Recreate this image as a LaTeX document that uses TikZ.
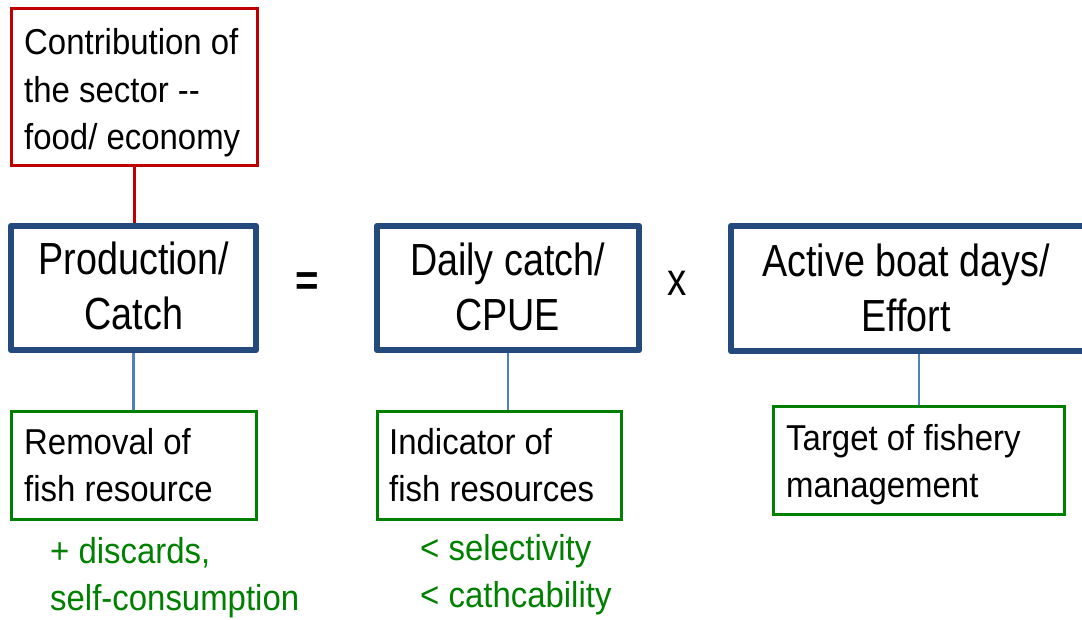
\documentclass[tikz,border=0pt]{standalone}
\usepackage{fontspec}
\setmainfont{Liberation Sans}[FakeStretch=0.915]
\newfontfamily\bigfont{Liberation Sans}[FakeStretch=0.838]
\definecolor{redline}{RGB}{192,0,0}
\definecolor{darkblue}{RGB}{36,73,125}
\definecolor{lightblue}{RGB}{79,129,189}
\definecolor{ggreen}{RGB}{0,128,0}
\tikzset{
  redbox/.style={draw=redline, line width=3pt, rectangle, inner sep=0pt},
  bluebox/.style={draw=darkblue, line width=6.5pt, line join=round, rectangle, inner sep=0pt},
  greenbox/.style={draw=ggreen, line width=3pt, rectangle, inner sep=0pt},
  smalltxt/.style={inner sep=0pt, anchor=base west, align=left, font=\fontsize{36}{47.5}\selectfont},
  bigtxt/.style={inner sep=0pt, anchor=base, align=center, font=\bigfont\fontsize{45}{55}\selectfont},
  gtxt/.style={smalltxt, text=ggreen},
  redconn/.style={draw=redline, line width=3pt},
  blueconn/.style={draw=lightblue, line width=2.5pt},
}
\begin{document}
\begin{tikzpicture}[x=1pt,y=-1pt]
\useasboundingbox (0,0) rectangle (1082,620);
\clip (0,0) rectangle (1082,620);
% boxes
\node[redbox, minimum width=246pt, minimum height=157pt] (red) at (134,87.5) {};
\node[bluebox, minimum width=245pt, minimum height=124pt] (prod) at (133.5,288) {};
\node[bluebox, minimum width=262pt, minimum height=124pt] (daily) at (508,288) {};
\node[bluebox, minimum width=361pt, minimum height=125pt] (active) at (911.5,288.5) {};
\node[greenbox, minimum width=245pt, minimum height=108pt] (rem) at (134,465.5) {};
\node[greenbox, minimum width=244pt, minimum height=108pt] (ind) at (499.5,465.5) {};
\node[greenbox, minimum width=291pt, minimum height=108pt] (tgt) at (919,460.5) {};
% texts (anchored at the baseline of the last line)
\node[smalltxt] (redt) at (24,150) {Contribution of\\the sector {-}{-}\\food/ economy};
\node[bigtxt] (prodt) at (134,330) {Production/\\Catch};
\node[bigtxt] (dailyt) at (507.5,331) {Daily catch/\\CPUE};
\node[bigtxt] (activet) at (906,332) {Active boat days/\\Effort};
\node[inner sep=0pt, anchor=base, font=\fontsize{44}{50}\selectfont\bfseries] (eq) at (307,296) {=};
\node[inner sep=0pt, anchor=base, font=\bigfont\fontsize{46}{50}\selectfont] (times) at (677,296) {x};
\node[smalltxt] (remt) at (24,501.5) {Removal of\\fish resource};
\node[smalltxt] (indt) at (389,501.5) {Indicator of\\fish resources};
\node[smalltxt] (tgtt) at (786,497.5) {Target of fishery\\management};
\node[gtxt] (disc) at (50,610.5) {+ discards,\\self-consumption};
\node[gtxt] (sel) at (420,607.5) {< selectivity\\< cathcability};
% connectors
\draw[redconn] (red.south) -- (red.south |- prod.north);
\draw[blueconn] (prod.south) -- (prod.south |- rem.north);
\draw[blueconn] (daily.south) -- (daily.south |- ind.north);
\draw[blueconn] (tgt.north |- active.south) -- (tgt.north);
\end{tikzpicture}
\end{document}
